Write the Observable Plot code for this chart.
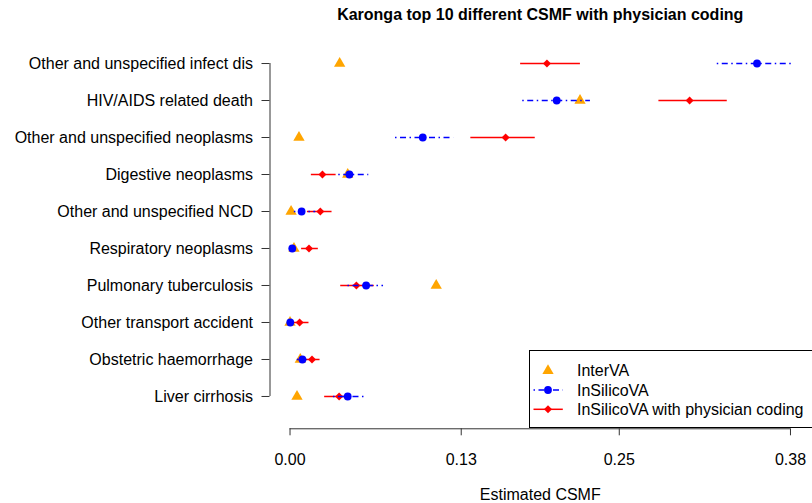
<!DOCTYPE html>
<html>
<head>
<meta charset="utf-8">
<script src="https://cdn.jsdelivr.net/npm/d3@7"></script>
<script src="https://cdn.jsdelivr.net/npm/@observablehq/plot@0.6"></script>
<style>
  html, body { margin: 0; padding: 0; background: white; }
  #wrap { position: relative; width: 812px; height: 503px; overflow: hidden; }
  #legend { position: absolute; left: 0; top: 0; pointer-events: none; }
</style>
</head>
<body>
<div id="wrap"></div>
<script>
// ---- data ----
const title = "Karonga top 10 different CSMF with physician coding";
const xLabel = "Estimated CSMF";
const categories = [
  "Other and unspecified infect dis",
  "HIV/AIDS related death",
  "Other and unspecified neoplasms",
  "Digestive neoplasms",
  "Other and unspecified NCD",
  "Respiratory neoplasms",
  "Pulmonary tuberculosis",
  "Other transport accident",
  "Obstetric haemorrhage",
  "Liver cirrhosis"
];
const interVA      = [0.0377, 0.2202, 0.0068, 0.0438, 0.0008, 0.0030, 0.1110, 0.0000, 0.0078, 0.0053];
const insilico     = [0.3546, 0.2025, 0.1008, 0.0451, 0.0088, 0.0017, 0.0578, 0.0002, 0.0094, 0.0438];
const insilicoLow  = [0.3244, 0.1767, 0.0801, 0.0370, 0.0033, 0.0003, 0.0440, 0.0000, 0.0055, 0.0330];
const insilicoHigh = [0.3814, 0.2281, 0.1242, 0.0598, 0.0195, 0.0040, 0.0710, 0.0020, 0.0130, 0.0563];
const phys         = [0.1951, 0.3034, 0.1637, 0.0246, 0.0230, 0.0144, 0.0504, 0.0073, 0.0167, 0.0373];
const physLow      = [0.1751, 0.2801, 0.1373, 0.0162, 0.0132, 0.0088, 0.0385, 0.0020, 0.0060, 0.0263];
const physHigh     = [0.2205, 0.3320, 0.1862, 0.0350, 0.0319, 0.0215, 0.0640, 0.0144, 0.0228, 0.0463];
const xTicks = [0.00, 0.13, 0.25, 0.38];
const seriesNames = ["InterVA", "InSilicoVA", "InSilicoVA with physician coding"];

// ---- table built from the arrays ----
const rows = categories.map((c, i) => ({
  cat: c,
  interVA: interVA[i],
  insilico: insilico[i], insLo: insilicoLow[i], insHi: insilicoHigh[i],
  phys: phys[i], phLo: physLow[i], phHi: physHigh[i]
}));

const font = "'Liberation Sans', Arial, Helvetica, sans-serif";
const axisCol = "#333";
const blueDash = "1.5,3.5,6,3.5";
const rTri = 4.2, rCirc = 3.9, rDiam = 3.6;
const xMin = d3.min(xTicks), xMax = d3.max(xTicks);
const pad = 0.04 * (xMax - xMin);

const chart = Plot.plot({
  width: 812,
  height: 503,
  marginLeft: 269.5,
  marginRight: 2,
  marginTop: 49.7,
  marginBottom: 93.7,
  style: { fontFamily: font, fontSize: "16px", color: "black", background: "white" },
  x: { domain: [xMin - pad, xMax + pad] },
  y: { type: "point", domain: categories, padding: 0.36, round: false },
  marks: [
    // axes
    Plot.axisY({ tickSize: 8, tickPadding: 9, fontSize: 16, label: null, stroke: axisCol, fill: "black" }),
    Plot.ruleX([xMin - pad], { y1: () => categories[0], y2: () => categories[categories.length - 1], stroke: axisCol }),
    Plot.axisX({ ticks: xTicks, tickFormat: d3.format(".2f"), tickSize: 7, tickPadding: 18, dy: 19, fontSize: 16, label: null, stroke: axisCol, fill: "black" }),
    Plot.ruleY([categories[categories.length - 1]], { x1: () => xMin, x2: () => xMax, dy: 32.3, stroke: axisCol }),
    // InterVA
    Plot.dot(rows, { x: "interVA", y: "cat", symbol: "triangle", r: rTri, fill: "orange" }),
    // InSilicoVA with physician coding
    Plot.ruleY(rows, { y: "cat", x1: "phLo", x2: "phHi", stroke: "red", strokeWidth: 1.5 }),
    Plot.dot(rows, { x: "phys", y: "cat", symbol: "diamond2", r: rDiam, fill: "red" }),
    // InSilicoVA
    Plot.ruleY(rows, { y: "cat", x1: "insLo", x2: "insHi", stroke: "blue", strokeWidth: 1.4, strokeDasharray: blueDash }),
    Plot.dot(rows, { x: "insilico", y: "cat", symbol: "circle", r: rCirc, fill: "blue" }),
    // title & axis label
    Plot.text([title], { frameAnchor: "top", lineAnchor: "middle", dy: -35, fontWeight: "bold", fontSize: 16, fill: "black" }),
    Plot.text([xLabel], { frameAnchor: "bottom", lineAnchor: "middle", dy: 85, fontSize: 16, fill: "black" })
  ]
});
document.getElementById("wrap").appendChild(chart);

// ---- legend overlay (box at bottom right of the plot region) ----
const leg = d3.select("#wrap").append("svg")
  .attr("id", "legend").attr("width", 812).attr("height", 503)
  .style("font-family", font).style("font-size", "16px");
leg.append("rect").attr("x", 529.5).attr("y", 350.5).attr("width", 300).attr("height", 77)
  .attr("fill", "white").attr("stroke", "black").attr("stroke-width", 1);
const ly = [370.7, 390, 409.3];
const sym = d3.symbol();
// InterVA
leg.append("path").attr("d", sym.type(d3.symbolTriangle).size(Math.PI * rTri * rTri)())
  .attr("transform", `translate(548,${ly[0]})`).attr("fill", "orange");
// InSilicoVA
leg.append("line").attr("x1", 533.5).attr("x2", 562.8).attr("y1", ly[1]).attr("y2", ly[1])
  .attr("stroke", "blue").attr("stroke-width", 1.4).attr("stroke-dasharray", blueDash);
leg.append("path").attr("d", sym.type(d3.symbolCircle).size(Math.PI * rCirc * rCirc)())
  .attr("transform", `translate(548,${ly[1]})`).attr("fill", "blue");
// physician
leg.append("line").attr("x1", 533.5).attr("x2", 562.8).attr("y1", ly[2]).attr("y2", ly[2])
  .attr("stroke", "red").attr("stroke-width", 1.5);
leg.append("path").attr("d", sym.type(d3.symbolDiamond2).size(Math.PI * rDiam * rDiam)())
  .attr("transform", `translate(548,${ly[2]})`).attr("fill", "red");
seriesNames.forEach((s, i) => {
  leg.append("text").attr("x", 577).attr("y", ly[i]).attr("dy", "0.35em").attr("fill", "black").text(s);
});
</script>
</body>
</html>
